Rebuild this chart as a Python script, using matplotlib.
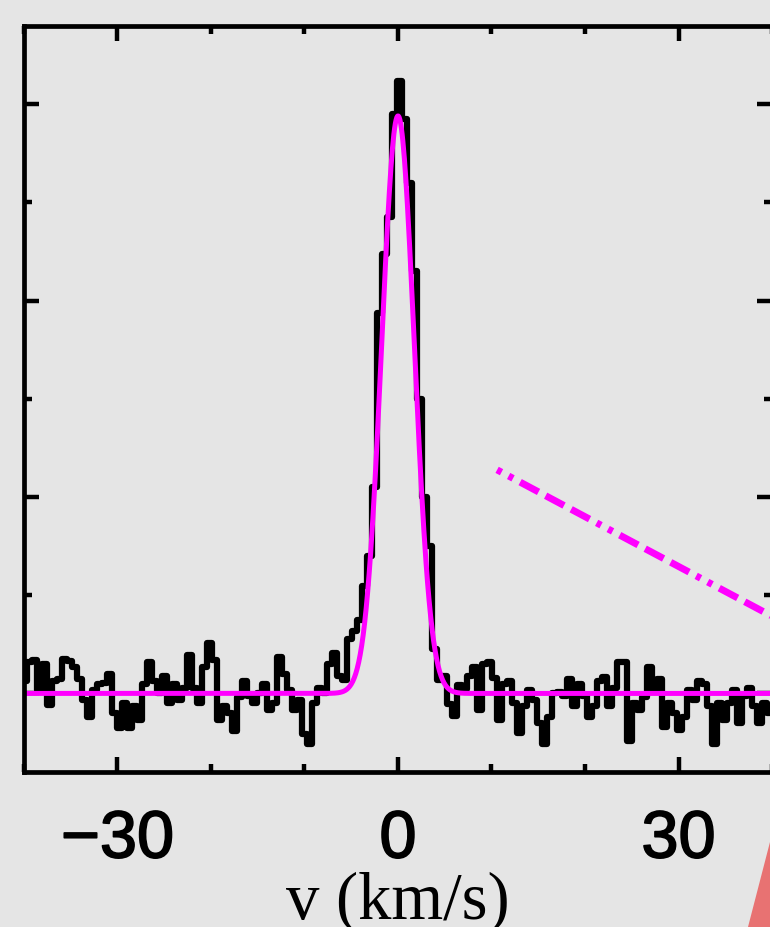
import numpy as np
import matplotlib
matplotlib.use("Agg")
import matplotlib.pyplot as plt
import matplotlib.patheffects as pe
from matplotlib.ticker import MultipleLocator
from matplotlib.patches import Polygon

# spectrum, channel values (K), left to right
T_left = [0.013, 0.032, 0.034, 0.003, 0.030, -0.012, 0.013, 0.015, 0.035, 0.033,
          0.027, 0.015, -0.007, -0.024, 0.003, 0.010, 0.011, 0.020, -0.020, -0.035,
          -0.010, -0.035, -0.013, -0.027, 0.010, 0.032, 0.013, 0.000, 0.018, -0.010,
          0.010, -0.007, 0.006, 0.039, 0.006, -0.010, 0.027, 0.051, 0.034, -0.027,
          -0.013, -0.020, -0.038, -0.004, 0.013, -0.003, -0.010, 0.000, 0.010, -0.017,
          -0.010, 0.037, 0.020, 0.003, -0.017, -0.007, -0.041, -0.051, -0.010, 0.006]
T_line = [0.000, 0.030, 0.041, 0.018, 0.014, 0.055, 0.064, 0.075, 0.109, 0.140,
          0.210, 0.387, 0.447, 0.485, 0.590, 0.624, 0.585, 0.520, 0.430, 0.300,
          0.200, 0.150, 0.045, 0.014, 0.018, -0.011, -0.023, 0.009, 0.005, 0.018]
T_right = [0.027, -0.017, 0.030, 0.032, 0.016, -0.027, 0.010, 0.013, -0.010, -0.040,
           -0.013, 0.003, -0.007, -0.030, -0.051, -0.024, 0.000, 0.001, -0.003, 0.015,
           -0.013, 0.010, -0.003, -0.024, -0.013, 0.013, 0.017, -0.013, 0.006, 0.032,
           0.032, -0.048, -0.010, -0.017, -0.004, 0.027, 0.004, 0.015, -0.034, -0.010,
           -0.020, -0.037, -0.024, 0.003, -0.007, 0.013, 0.010, -0.013, -0.051, -0.010,
           -0.027, -0.010, 0.003, -0.030, -0.003, 0.006, -0.013, -0.030, -0.010, -0.020]

T = np.array(T_left + T_line + T_right)
v0 = -40.0       # first channel centre (km/s)
dv = 0.535       # channel width (km/s)
v = v0 + dv * np.arange(len(T))

# gaussian fit
fit_amp = 0.588
fit_v0 = 0.0
fit_sigma = 1.74

# dash-dot pointer (data coords)
arrow_v = [10.6, 44.0]
arrow_T = [0.2276, 0.0583]

bg = "#e5e5e5"
plt.rcParams['lines.scale_dashes'] = False

fig = plt.figure(figsize=(7.7, 9.27), dpi=100, facecolor=bg)
ax = fig.add_axes([24 / 770, 155 / 927, 748 / 770, 746.5 / 927])
ax.set_facecolor(bg)

ax.step(v, T, where='mid', color='black', lw=4.5)
vv = np.linspace(-40, 40, 1000)
ax.plot(vv, fit_amp * np.exp(-(vv - fit_v0) ** 2 / (2 * fit_sigma ** 2)),
        color='#ff00ff', lw=3.6)

ax.plot(arrow_v, arrow_T, color='#ff00ff', lw=5, clip_on=False,
        dashes=(3.6, 5.8, 3.6, 5.8, 15, 5.8, 15, 5.8, 15, 5.8),
        dash_capstyle='butt')

ax.set_xlim(-40, 40)
ax.set_ylim(-0.08, 0.68)

ax.xaxis.set_major_locator(MultipleLocator(30))
ax.xaxis.set_minor_locator(MultipleLocator(10))
ax.yaxis.set_major_locator(MultipleLocator(0.2))
ax.yaxis.set_minor_locator(MultipleLocator(0.1))
ax.tick_params(which='both', direction='in', top=True, right=True, width=3.2,
               color='black')
ax.tick_params(which='major', length=11)
ax.tick_params(which='minor', length=6)
ax.tick_params(axis='y', labelleft=False)
ax.tick_params(axis='x', labelsize=48, pad=27)
for lab in ax.get_xticklabels():
    lab.set_family('Liberation Sans')
    lab.set_path_effects([pe.withStroke(linewidth=1.2, foreground='black')])
for s in ax.spines.values():
    s.set_linewidth(3.4)

ax.set_xlabel('v (km/s)', family='Liberation Serif', fontsize=48, labelpad=0)

# red corner shape from the slide
fig.patches.append(Polygon([(748 / 770, 0), (1, 85 / 927), (1, 0)], closed=True,
                           transform=fig.transFigure, facecolor='#e87272',
                           edgecolor='none'))

fig.savefig('out.png', dpi=100, facecolor=bg)
